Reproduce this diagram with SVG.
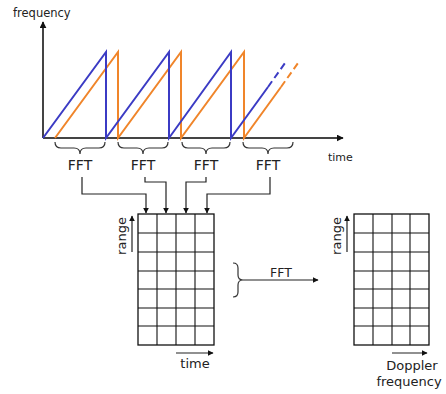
<svg xmlns="http://www.w3.org/2000/svg" width="446" height="394" viewBox="0 0 446 394">
<defs>
<marker id="ah" viewBox="0 0 10 10" refX="9" refY="5" markerWidth="7" markerHeight="7" orient="auto" markerUnits="userSpaceOnUse"><path d="M0,0 L10,5 L0,10 z" fill="#111"/></marker>
<marker id="ahs" viewBox="0 0 10 10" refX="9" refY="5" markerWidth="6" markerHeight="6" orient="auto" markerUnits="userSpaceOnUse"><path d="M0,0 L10,5 L0,10 z" fill="#111"/></marker>
<style>
.t{font-family:"DejaVu Sans",Verdana,sans-serif;fill:#222}
.ax{stroke:#444;stroke-width:2;fill:none}
.b{stroke:#3b3bc4;stroke-width:2;fill:none}
.o{stroke:#f0852a;stroke-width:2;fill:none}
.br{stroke:#333;stroke-width:1.2;fill:none}
.c{stroke:#222;stroke-width:1.2;fill:none}
.g{stroke:#111;stroke-width:1.3;fill:#fff}
.gl{stroke:#111;stroke-width:1.1}
</style>
</defs>
<rect width="446" height="394" fill="#fff"/>
<g id="chart">
<line class="ax" x1="43" y1="138" x2="43" y2="22" marker-end="url(#ah)"/>
<line class="ax" x1="43" y1="138" x2="343" y2="138" marker-end="url(#ah)"/>
<text class="t" x="13" y="17" font-size="11.5">frequency</text>
<text class="t" x="328" y="161" font-size="11">time</text>
<path class="o" d="M55,138 L118,52 L118,138 L181,52 L181,138 L244,52 L244,138 L281,87"/>
<path class="o" d="M281,87 L298,63" stroke-dasharray="7,4"/>
<path class="b" d="M43,138 L106,52 L106,138 L169,52 L169,138 L231,52 L231,138 L268,87"/>
<path class="b" d="M268,87 L285,63" stroke-dasharray="7,4"/>
</g>
<g id="fft1"><path class="br" d="M55,142 Q55,148 61,148 L74,148 Q80,148 80,154 Q80,148 86,148 L99,148 Q105,148 105,142"/><text class="t" x="80" y="170" font-size="14" text-anchor="middle">FFT</text></g>
<g id="fft2"><path class="br" d="M118,142 Q118,148 124,148 L137,148 Q143,148 143,154 Q143,148 149,148 L162,148 Q168,148 168,142"/><text class="t" x="143" y="170" font-size="14" text-anchor="middle">FFT</text></g>
<g id="fft3"><path class="br" d="M182,142 Q182,148 188,148 L200,148 Q206,148 206,154 Q206,148 212,148 L224,148 Q230,148 230,142"/><text class="t" x="206" y="170" font-size="14" text-anchor="middle">FFT</text></g>
<g id="fft4"><path class="br" d="M243,142 Q243,148 249,148 L262,148 Q268,148 268,154 Q268,148 274,148 L287,148 Q293,148 293,142"/><text class="t" x="268" y="170" font-size="14" text-anchor="middle">FFT</text></g>
<g id="connectors">
<path class="c" d="M82,177 L82,194 L146,194 L146,213" marker-end="url(#ahs)"/>
<path class="c" d="M145,177 L145,182 L166,182 L166,213" marker-end="url(#ahs)"/>
<path class="c" d="M206,177 L206,182 L186,182 L186,213" marker-end="url(#ahs)"/>
<path class="c" d="M270,177 L270,194 L207,194 L207,213" marker-end="url(#ahs)"/>
<path class="c" d="M243,280 L318,280" marker-end="url(#ahs)"/>
</g>
<g id="grid1">
<rect class="g" x="138" y="214" width="76" height="131"/>
<path class="gl" d="M157,214V345M176,214V345M195,214V345M138,233H214M138,252H214M138,271H214M138,289H214M138,308H214M138,326H214"/>
<line class="c" x1="132" y1="252" x2="132" y2="216" marker-end="url(#ahs)"/>
<text class="t" font-size="13" text-anchor="middle" transform="translate(126,236) rotate(-90)">range</text>
<line class="c" x1="176" y1="353" x2="213" y2="353" marker-end="url(#ahs)"/>
<text class="t" x="195" y="368" font-size="13" text-anchor="middle">time</text>
</g>
<g id="fftmid">
<path class="br" d="M233,263 Q238,263 238,268 L238,275 Q238,280 243,280 Q238,280 238,285 L238,292 Q238,297 233,297"/>
<text class="t" x="281" y="277" font-size="12.5" text-anchor="middle">FFT</text>
</g>
<g id="grid2">
<rect class="g" x="354" y="214" width="75" height="131"/>
<path class="gl" d="M373,214V345M392,214V345M410,214V345M354,233H429M354,252H429M354,271H429M354,289H429M354,308H429M354,326H429"/>
<line class="c" x1="347" y1="252" x2="347" y2="216" marker-end="url(#ahs)"/>
<text class="t" font-size="13" text-anchor="middle" transform="translate(341,236) rotate(-90)">range</text>
<line class="c" x1="392" y1="353" x2="427" y2="353" marker-end="url(#ahs)"/>
<text class="t" x="412" y="370" font-size="13" text-anchor="middle">Doppler</text>
<text class="t" x="409" y="386" font-size="13" text-anchor="middle">frequency</text>
</g>
</svg>
